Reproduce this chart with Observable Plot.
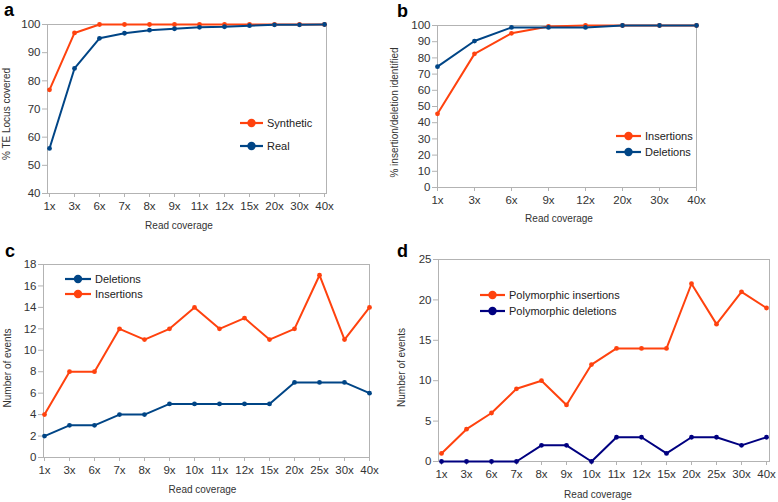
<!DOCTYPE html>
<html><head><meta charset="utf-8">
<script src="https://cdn.jsdelivr.net/npm/d3@7"></script>
<script src="https://cdn.jsdelivr.net/npm/@observablehq/plot@0.6"></script>
<style>
body{margin:0;background:#fff;}
#root{position:relative;width:778px;height:502px;overflow:hidden;background:#fff;font-family:"Liberation Sans",Arial,sans-serif;}
.panel{position:absolute}
.panel svg{display:block}
#overlay{position:absolute;left:0;top:0;pointer-events:none}
</style>
</head><body>
<div id="root"></div>
<script>
const FONT = '"Liberation Sans", Arial, sans-serif';
const ORANGE = "#ff420e", BLUE = "#004586", NAVY = "#000080";

// Panel a
const coverageA = ["1x","3x","6x","7x","8x","9x","11x","12x","15x","20x","30x","40x"];
const syntheticA = [76.8,97,100,100,100,100,100,100,100,100,100,100];
const realA = [56,84.4,95.1,96.9,98,98.5,99,99.2,99.6,99.9,99.9,100];
const yTicksA = [40,50,60,70,80,90,100];

// Panel b
const coverageB = ["1x","3x","6x","9x","12x","20x","30x","40x"];
const insertionsB = [45.5,82.5,95.2,99.4,100,100,100,100];
const deletionsB = [74.6,90.4,98.8,98.8,98.8,100,100,100];
const yTicksB = [0,10,20,30,40,50,60,70,80,90,100];

// Panel c
const coverageC = ["1x","3x","6x","7x","8x","9x","10x","11x","12x","15x","20x","25x","30x","40x"];
const deletionsC = [2,3,3,4,4,5,5,5,5,5,7,7,7,6];
const insertionsC = [4,8,8,12,11,12,14,12,13,11,12,17,11,14];
const yTicksC = [0,2,4,6,8,10,12,14,16,18];

// Panel d
const coverageD = ["1x","3x","6x","7x","8x","9x","10x","11x","12x","15x","20x","25x","30x","40x"];
const polyInsertionsD = [1,4,6,9,10,7,12,14,14,14,22,17,21,19];
const polyDeletionsD = [0,0,0,0,2,2,0,3,3,1,3,3,2,3];
const yTicksD = [0,5,10,15,20,25];

function panel({cov, series, yDomain, yTicks, yLabel, width, height, m, xT, yT}) {
  const rows = series.flatMap(s => s.values.map((v, i) => ({cov: cov[i], value: v, series: s.name})));
  return Plot.plot({
    width, height,
    marginTop: m[0], marginRight: m[1], marginBottom: m[2], marginLeft: m[3],
    style: {fontFamily: FONT, fontSize: "11.5px", background: "transparent", overflow: "visible", color: "#333"},
    x: {type: "point", domain: cov, padding: 0},
    y: {domain: yDomain},
    color: {domain: series.map(s => s.name), range: series.map(s => s.color)},
    marks: [
      Plot.frame({stroke: "#b3b3b3"}),
      Plot.axisX({tickSize: 4, tickPadding: 4, stroke: "#b3b3b3", fill: "#333", label: null}),
      Plot.axisY({ticks: yTicks, tickSize: 5, tickPadding: 2, stroke: "#b3b3b3", fill: "#333", label: null}),
      Plot.text(["Read coverage"], {text: d => d, frameAnchor: "bottom", dx: xT[0], dy: xT[1], fontSize: 10, fill: "#333"}),
      Plot.text([yLabel], {text: d => d, frameAnchor: "left", textAnchor: "middle", rotate: -90, dx: yT[0], dy: yT[1], fontSize: 10, fill: "#333"}),
      Plot.line(rows, {x: "cov", y: "value", z: "series", stroke: "series", strokeWidth: 2}),
      Plot.dot(rows, {x: "cov", y: "value", fill: "series", r: 2.4})
    ]
  });
}

const root = document.getElementById("root");
function place(el, left, top) {
  const d = document.createElement("div");
  d.className = "panel"; d.style.left = left + "px"; d.style.top = top + "px";
  d.appendChild(el); root.appendChild(d);
}

place(panel({
  cov: coverageA,
  series: [{name: "Synthetic", values: syntheticA, color: ORANGE}, {name: "Real", values: realA, color: BLUE}],
  yDomain: [40, 100], yTicks: yTicksA, yLabel: "% TE Locus covered",
  width: 389, height: 250, m: [24, 63, 57, 47], xT: [-8, 35], yT: [-41, 5]
}), 0, 0);

place(panel({
  cov: coverageB,
  series: [{name: "Insertions", values: insertionsB, color: ORANGE}, {name: "Deletions", values: deletionsB, color: BLUE}],
  yDomain: [0, 100], yTicks: yTicksB, yLabel: "% insertion/deletion identified",
  width: 389, height: 250, m: [25, 82, 63, 48], xT: [-8, 34], yT: [-43, 6]
}), 389, 0);

place(panel({
  cov: coverageC,
  series: [{name: "Deletions", values: deletionsC, color: BLUE}, {name: "Insertions", values: insertionsC, color: ORANGE}],
  yDomain: [0, 18], yTicks: yTicksC, yLabel: "Number of events",
  width: 389, height: 252, m: [14, 20, 45, 43], xT: [-4, 35], yT: [-36, 7]
}), 0, 250);

place(panel({
  cov: coverageD,
  series: [{name: "Polymorphic insertions", values: polyInsertionsD, color: ORANGE}, {name: "Polymorphic deletions", values: polyDeletionsD, color: NAVY}],
  yDomain: [0, 25], yTicks: yTicksD, yLabel: "Number of events",
  width: 389, height: 252, m: [9, 9, 41, 49], xT: [-6, 36], yT: [-37, 7]
}), 389, 250);

// overlay: panel tags and legends
const svg = d3.select(root).append("svg").attr("id", "overlay").attr("width", 778).attr("height", 502)
  .style("font-family", FONT);
const tags = [["a", 4, 16], ["b", 397, 16.5], ["c", 5, 257], ["d", 397, 257]];
svg.selectAll("text.tag").data(tags).join("text").attr("class", "tag")
  .attr("x", d => d[1]).attr("y", d => d[2]).text(d => d[0])
  .attr("font-size", 18).attr("font-weight", "bold").attr("fill", "#000");

const legends = [
  {x0: 240, x1: 263, items: [["Synthetic", ORANGE, 123], ["Real", BLUE, 146]]},
  {x0: 616, x1: 641, items: [["Insertions", ORANGE, 136], ["Deletions", BLUE, 152]]},
  {x0: 65, x1: 91, items: [["Deletions", BLUE, 279], ["Insertions", ORANGE, 294]]},
  {x0: 480, x1: 505, items: [["Polymorphic insertions", ORANGE, 295], ["Polymorphic deletions", NAVY, 311]]}
];
for (const lg of legends) {
  for (const [name, color, y] of lg.items) {
    svg.append("line").attr("x1", lg.x0).attr("x2", lg.x1).attr("y1", y).attr("y2", y)
      .attr("stroke", color).attr("stroke-width", 2.2);
    svg.append("circle").attr("cx", (lg.x0 + lg.x1) / 2).attr("cy", y).attr("r", 4.2).attr("fill", color);
    svg.append("text").attr("x", lg.x1 + 4).attr("y", y).attr("dy", "0.35em")
      .attr("font-size", 11).attr("fill", "#222").text(name);
  }
}
</script>
</body></html>
